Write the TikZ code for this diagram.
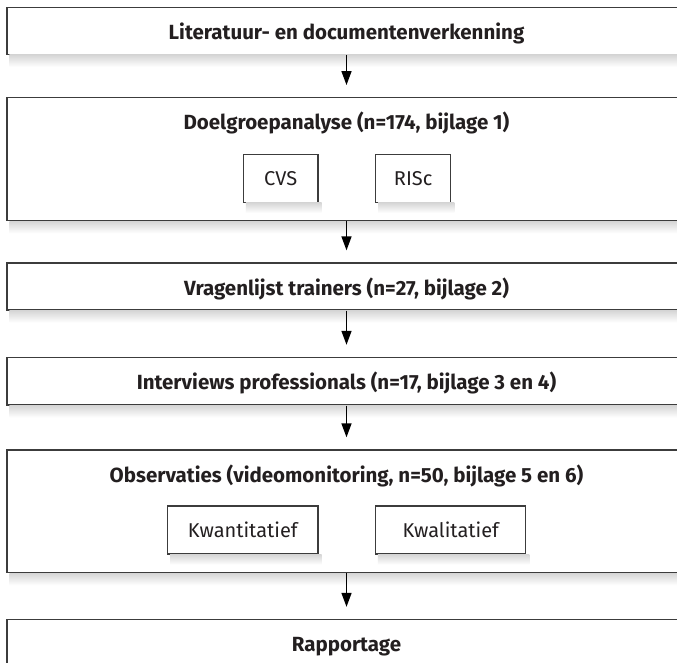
\documentclass[tikz,border=0pt]{standalone}
\usepackage{fontspec}
\setmainfont{Fira Sans}
\usetikzlibrary{arrows.meta}
\definecolor{ink}{HTML}{231F20}
\definecolor{edge}{HTML}{3C3C3C}
\newcommand{\boxshade}[2]{%
  \shade[top color=black!16,bottom color=white]
    ([xshift=3pt]#1.south west) rectangle ([xshift=3pt,yshift=-#2]#1.south east);}
\begin{document}
\begin{tikzpicture}[x=1pt,y=-1pt,
  mainbox/.style={draw=edge, line width=1.3pt, fill=white, minimum width=679pt,
    inner sep=0pt, text height=17pt, text depth=0pt, text=ink,
    font=\bfseries\fontsize{20.5}{24}\selectfont},
  subbox/.style={draw=edge, line width=1.2pt, fill=white, minimum height=48pt,
    inner sep=0pt, text height=14.8pt, text depth=0pt, text=ink,
    font=\fontsize{20}{24}\selectfont},
  titletext/.style={text=ink, font=\bfseries\fontsize{20.5}{24}\selectfont, inner sep=0pt, anchor=base},
  arr/.style={draw=black, line width=1.5pt, -{Triangle[width=10pt,length=14pt]}, shorten >=12pt}
]
\useasboundingbox (0,0) rectangle (677,663);
\clip (0,0) rectangle (677,663);

% main boxes
\node[mainbox, minimum height=47pt] (b1) at (346.5,30.8) {Literatuur- en documentenverkenning};
\node[mainbox, minimum height=123pt] (b2) at (346.5,159.2) {};
\node[mainbox, minimum height=47pt] (b3) at (346.5,286.5) {Vragenlijst trainers (n=27, bijlage 2)};
\node[mainbox, minimum height=47.5pt] (b4) at (346.5,381.2) {Interviews professionals (n=17, bijlage 3 en 4)};
\node[mainbox, minimum height=122.7pt] (b5) at (346.5,511.3) {};
\node[mainbox, minimum height=47pt] (b6) at (346.5,643) {Rapportage};

% shadows of main boxes
\boxshade{b1}{12pt}
\boxshade{b2}{12pt}
\boxshade{b3}{12pt}
\boxshade{b4}{12pt}
\boxshade{b5}{12pt}

% titles
\node[titletext] (t2) at (346.5,129.3) {Doelgroepanalyse (n=174, bijlage 1)};
\node[titletext] (t5) at (346.5,482) {Observaties (videomonitoring, n=50, bijlage 5 en 6)};

% inner boxes
\node[subbox, minimum width=74.7pt] (cvs) at (280.7,178.3) {CVS};
\node[subbox, minimum width=75pt] (risc) at (413.2,178.3) {RISc};
\node[subbox, minimum width=150.3pt] (kwan) at (242.8,530) {Kwantitatief};
\node[subbox, minimum width=150.3pt] (kwal) at (450.7,530) {Kwalitatief};
\boxshade{cvs}{10pt}
\boxshade{risc}{10pt}
\boxshade{kwan}{10pt}
\boxshade{kwal}{10pt}

% connectors
\draw[arr] (b1.south) -- (b2.north);
\draw[arr] (b2.south) -- (b3.north);
\draw[arr] (b3.south) -- (b4.north);
\draw[arr] (b4.south) -- (b5.north);
\draw[arr] (b5.south) -- (b6.north);
\end{tikzpicture}
\end{document}
